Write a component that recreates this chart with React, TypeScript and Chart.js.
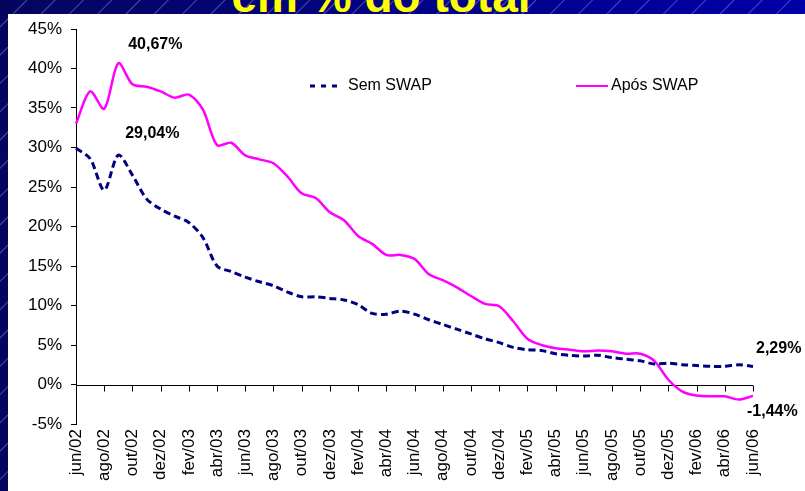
import React, { useEffect, useRef } from "react";
import { Chart, registerables } from "chart.js";

Chart.register(...registerables);

const monthNames = ["jun", "jul", "ago", "set", "out", "nov", "dez", "jan", "fev", "mar", "abr", "mai"];
const months: string[] = [];
for (let i = 0; i <= 48; i++) {
  const mi = i % 12;
  const yr = 2 + Math.floor((i + 5) / 12);
  months.push(monthNames[mi] + "/0" + yr);
}

const semSwap = [
  29.9, 28.6, 24.6, 29.04, 26.5, 23.5, 22.2, 21.3, 20.5, 18.6,
  15.0, 14.3, 13.6, 13.0, 12.5, 11.7, 11.1, 11.1, 10.9, 10.7,
  10.1, 9.0, 8.9, 9.3, 8.9, 8.2, 7.6, 7.0, 6.4, 5.8,
  5.3, 4.7, 4.4, 4.3, 3.9, 3.7, 3.6, 3.7, 3.4, 3.2,
  3.0, 2.6, 2.7, 2.5, 2.4, 2.3, 2.3, 2.5, 2.29,
];

const aposSwap = [
  33.0, 37.1, 34.9, 40.67, 38.0, 37.7, 37.1, 36.3, 36.7, 34.8,
  30.3, 30.6, 29.0, 28.5, 28.0, 26.3, 24.2, 23.6, 21.8, 20.8,
  18.8, 17.8, 16.4, 16.4, 15.9, 14.0, 13.2, 12.3, 11.2, 10.2,
  9.9, 8.0, 5.8, 5.0, 4.6, 4.4, 4.2, 4.3, 4.2, 3.9,
  3.9, 3.0, 0.6, -0.9, -1.4, -1.5, -1.5, -1.9, -1.44,
];

const seriesNames = ["Sem SWAP", "Após SWAP"];
const yMin = -5;
const yMax = 45;
const yStep = 5;

const NAVY = "#000080";
const PINK = "#ff00ff";
const FONT = "'Liberation Sans', Arial, sans-serif";

const fmt = (v: number) => v.toFixed(2).replace(".", ",") + "%";

const overlayPlugin = {
  id: "overlay",
  beforeDatasetsDraw(chart: any) {
    const { ctx, chartArea, scales } = chart;
    const x = scales.x;
    const y = scales.y;
    const y0 = Math.round(y.getPixelForValue(0)) + 0.5;
    ctx.save();
    ctx.strokeStyle = "#000";
    ctx.lineWidth = 1;
    ctx.beginPath();
    ctx.moveTo(chartArea.left, y0);
    ctx.lineTo(chartArea.right, y0);
    for (let i = 0; i < months.length; i += 2) {
      const px = Math.round(x.getPixelForValue(i)) + 0.5;
      ctx.moveTo(px, y0);
      ctx.lineTo(px, y0 + 6);
    }
    ctx.stroke();
    ctx.restore();
  },
  afterDraw(chart: any) {
    const { ctx, chartArea, scales } = chart;
    const x = scales.x;
    const y = scales.y;
    ctx.save();
    // legend
    const ly = chartArea.top + 57;
    const l1 = chartArea.left + 234;
    ctx.strokeStyle = NAVY;
    ctx.lineWidth = 3;
    ctx.setLineDash([5, 6]);
    ctx.beginPath();
    ctx.moveTo(l1, ly);
    ctx.lineTo(l1 + 33, ly);
    ctx.stroke();
    ctx.setLineDash([]);
    ctx.fillStyle = "#000";
    ctx.font = `16px ${FONT}`;
    ctx.textBaseline = "middle";
    ctx.textAlign = "left";
    ctx.fillText(seriesNames[0], l1 + 38, ly);
    const l2 = chartArea.left + 500;
    ctx.strokeStyle = PINK;
    ctx.lineWidth = 2;
    ctx.beginPath();
    ctx.moveTo(l2, ly);
    ctx.lineTo(l2 + 32, ly);
    ctx.stroke();
    ctx.fillText(seriesNames[1], l2 + 35, ly);

    // annotations
    ctx.font = `bold 16px ${FONT}`;
    ctx.textAlign = "center";
    const pk1 = 3;
    ctx.fillText(fmt(aposSwap[pk1]), x.getPixelForValue(pk1) + 37, y.getPixelForValue(aposSwap[pk1]) - 19);
    ctx.fillText(fmt(semSwap[pk1]), x.getPixelForValue(pk1) + 34, y.getPixelForValue(semSwap[pk1]) - 21);
    const last = months.length - 1;
    ctx.textAlign = "left";
    ctx.fillText(fmt(semSwap[last]), x.getPixelForValue(last) + 3, y.getPixelForValue(semSwap[last]) - 18);
    ctx.fillText(fmt(aposSwap[last]), x.getPixelForValue(last) - 6, y.getPixelForValue(aposSwap[last]) + 16);
    ctx.restore();
  },
};

export default function App() {
  const ref = useRef<HTMLCanvasElement | null>(null);
  useEffect(() => {
    if (!ref.current) return;
    const chart = new Chart(ref.current, {
      type: "line",
      data: {
        labels: months,
        datasets: [
          {
            label: seriesNames[0],
            data: semSwap,
            borderColor: NAVY,
            borderWidth: 3,
            borderDash: [7, 4],
            pointRadius: 0,
            tension: 0.3,
            fill: false,
          },
          {
            label: seriesNames[1],
            data: aposSwap,
            borderColor: PINK,
            borderWidth: 2.5,
            pointRadius: 0,
            tension: 0.3,
            fill: false,
          },
        ],
      },
      options: {
        responsive: false,
        animation: false,
        layout: { padding: { left: 0, top: 29, right: 52, bottom: 0 } },
        plugins: {
          legend: { display: false },
          tooltip: { enabled: false },
          title: { display: false },
        },
        scales: {
          x: {
            type: "category",
            offset: false,
            grid: { display: false, drawTicks: false },
            border: { display: false },
            ticks: {
              autoSkip: false,
              maxRotation: 90,
              minRotation: 90,
              padding: 5,
              color: "#000",
              font: { family: FONT, size: 17 },
              callback: (_v: any, i: number) => (i % 2 === 0 ? months[i] : null),
            },
            afterFit: (s: any) => {
              s.height = 67;
            },
          },
          y: {
            min: yMin,
            max: yMax,
            grid: { display: true, drawOnChartArea: false, drawTicks: true, tickLength: 5, color: "#000" },
            border: { display: true, color: "#000", width: 1 },
            ticks: {
              stepSize: yStep,
              padding: 9,
              color: "#000",
              font: { family: FONT, size: 17 },
              callback: (v: any) => v + "%",
            },
            afterFit: (s: any) => {
              s.width = 76;
            },
          },
        },
      },
      plugins: [overlayPlugin],
    } as any);
    return () => chart.destroy();
  }, []);

  return (
    <div
      style={{
        position: "fixed",
        left: 0,
        top: 0,
        width: 805,
        height: 491,
        overflow: "hidden",
        background:
          "repeating-linear-gradient(135deg, rgba(140,140,255,0) 0px, rgba(140,140,255,0) 18px, rgba(160,160,255,0.45) 19px, rgba(140,140,255,0) 20px), linear-gradient(90deg, #05055e, #0000a8)",
      }}
    >
      <div
        style={{
          position: "absolute",
          left: 0,
          width: 762,
          top: -27,
          textAlign: "center",
          color: "#ffff00",
          fontFamily: FONT,
          fontWeight: "bold",
          fontSize: 46,
          lineHeight: "46px",
          whiteSpace: "nowrap",
        }}
      >
        em % do total
      </div>
      <div
        style={{
          position: "absolute",
          left: 8,
          top: 14,
          right: 0,
          bottom: 0,
          background: "#ffffff",
        }}
      />
      <canvas
        ref={ref}
        width={805}
        height={491}
        style={{ position: "absolute", left: 0, top: 0, width: 805, height: 491 }}
      />
    </div>
  );
}
